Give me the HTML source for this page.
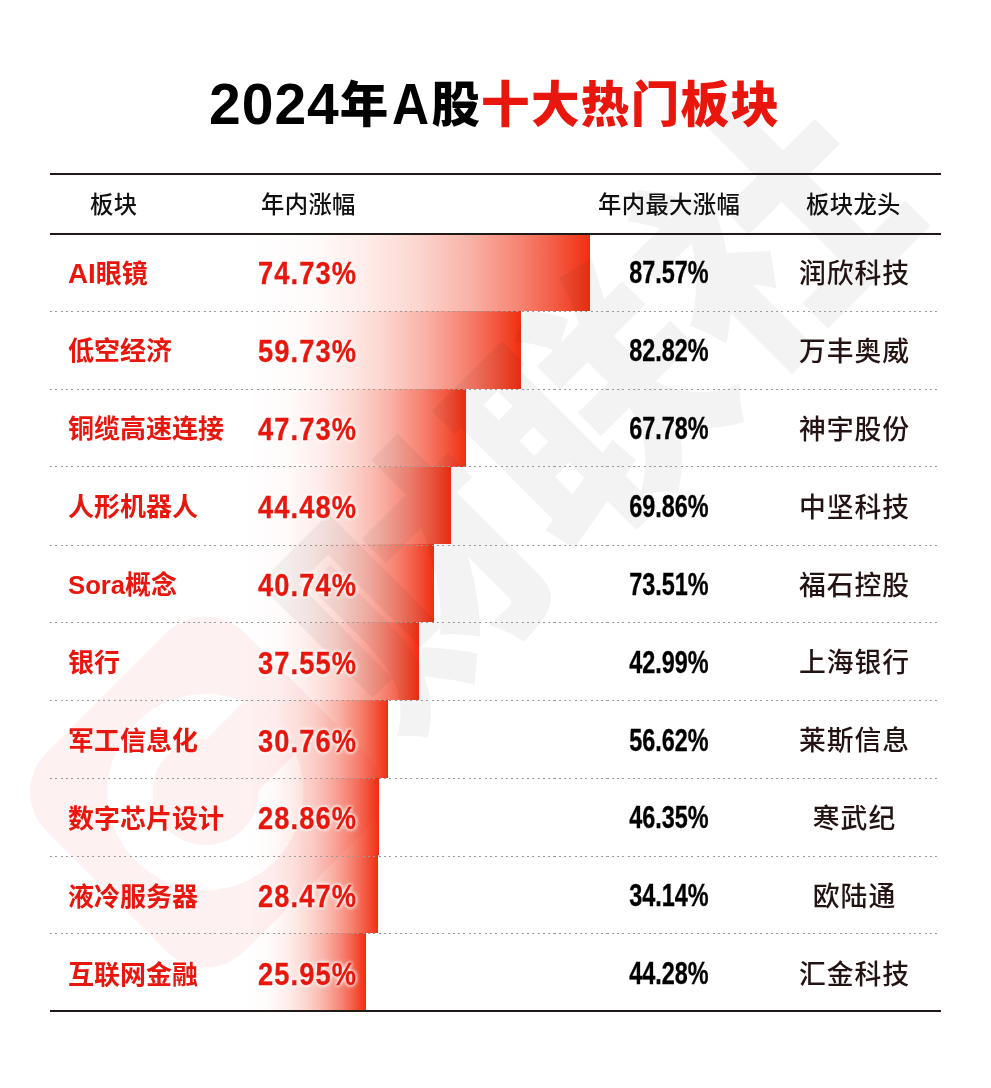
<!DOCTYPE html>
<html lang="zh-CN">
<head>
<meta charset="utf-8">
<title>2024年A股十大热门板块</title>
<style>
*{margin:0;padding:0;box-sizing:border-box}
html,body{width:991px;height:1088px;background:#fff;overflow:hidden}
body{position:relative;font-family:"Liberation Sans","Noto Sans CJK SC",sans-serif;color:#000}
#wm{position:absolute;left:0;top:0;width:991px;height:1088px;z-index:3;mix-blend-mode:multiply;pointer-events:none}
h1{position:absolute;left:209px;top:65px;width:700px;text-align:left;font-size:48.5px;line-height:74px;font-weight:900;letter-spacing:1px;white-space:nowrap;z-index:4}
h1 b{color:#e8160c;font-weight:900;letter-spacing:1.4px}
h1 span{font-size:57px;font-weight:700;position:relative;top:1.5px}
h1 span.a{display:inline-block;transform:scaleX(.9);margin:0 -1px 0 1px;line-height:60px}
.ln{position:absolute;left:50px;width:891px;height:2px;background:#1f1a17;z-index:4}
.hd{position:absolute;top:186.5px;font-size:23.3px;line-height:36px;color:#111;white-space:nowrap;z-index:4;letter-spacing:.4px;font-weight:500}
.row{position:absolute;left:50px;width:890px}
.dot{position:absolute;left:50px;width:890px;height:1px;z-index:4;
 background:repeating-linear-gradient(90deg,#9a9a9a 0,#9a9a9a 2px,rgba(255,255,255,0) 2px,rgba(255,255,255,0) 5.3px)}
.bar{position:absolute;left:197px;top:0;z-index:1;
 background:linear-gradient(90deg,rgba(240,46,16,0) 0%,rgba(240,46,16,.025) 20%,rgba(240,46,16,.09) 35%,rgba(240,46,16,.2) 50%,rgba(240,46,16,.37) 65%,rgba(240,46,16,.6) 80%,rgba(240,46,16,.79) 90%,rgba(240,46,16,1) 100%)}
.nm,.pc,.mx,.ld{position:absolute;top:0;white-space:nowrap;z-index:5}
.nm{left:18px;font-size:26px;font-weight:700;color:#e8160c;letter-spacing:0;margin-top:3.6px}
.pc{left:208px;font-size:31px;font-weight:700;color:#e8160c;letter-spacing:1.25px;transform:scaleX(.88);transform-origin:0 50%;margin-top:3.2px;-webkit-text-stroke:.3px #e8160c;text-shadow:0 0 4px #fff,0 0 4px #fff,0 0 6px #fff}
.mx{left:519px;width:200px;text-align:center;font-size:31px;font-weight:700;color:#000;transform:scaleX(.755);-webkit-text-stroke:.35px #000;margin-top:2.2px}
.nm em{font-style:normal;font-size:27.8px;line-height:20px}
.ld{left:704px;width:200px;text-align:center;font-size:26.8px;font-weight:500;color:#241313;letter-spacing:1px;margin-top:4px;text-indent:1px}
</style>
</head>
<body>
<svg id="wm" viewBox="0 0 991 1088">
<g transform="rotate(-45)">
<rect x="-554.9" y="565.1" width="280.4" height="280.4" rx="55" ry="55" fill="#fef1f1"/>
<circle cx="-414.7" cy="705.3" r="75.5" fill="none" stroke="#ffffff" stroke-width="45"/>
<rect x="-400" y="668.8" width="92" height="73" fill="#fef1f1"/>
<text x="-245" y="801" font-family="'Noto Sans CJK SC',sans-serif" font-weight="900" font-size="250" fill="#f3f3f3">财联社</text>
</g>
</svg>
<h1><span>2024</span>年<span class="a">A</span>股<b>十大热门板块</b></h1>
<div class="ln" style="top:172.8px"></div>
<div class="hd" style="left:90px">板块</div>
<div class="hd" style="left:261px">年内涨幅</div>
<div class="hd" style="left:598px">年内最大涨幅</div>
<div class="hd" style="left:806px">板块龙头</div>
<div class="ln" style="top:232.5px"></div>
<div id="rows">
<div class="row" style="top:233.5px;height:77.73px"><i class="bar" style="width:343px;height:77.73px"></i><span class="nm" style="top:-1.5px;height:77.73px;line-height:77.73px"><em>AI</em>眼镜</span><span class="pc" style="top:-1.5px;height:77.73px;line-height:77.73px">74.73%</span><span class="mx" style="top:-1.5px;height:77.73px;line-height:77.73px">87.57%</span><span class="ld" style="top:-1.5px;height:77.73px;line-height:77.73px">润欣科技</span></div>
<div class="row" style="top:311.23px;height:77.73px"><i class="bar" style="width:274.1px;height:77.73px"></i><span class="nm" style="top:-1.33px;height:77.73px;line-height:77.73px">低空经济</span><span class="pc" style="top:-1.33px;height:77.73px;line-height:77.73px">59.73%</span><span class="mx" style="top:-1.33px;height:77.73px;line-height:77.73px">82.82%</span><span class="ld" style="top:-1.33px;height:77.73px;line-height:77.73px">万丰奥威</span></div>
<div class="row" style="top:388.96px;height:77.73px"><i class="bar" style="width:219px;height:77.73px"></i><span class="nm" style="top:-1.17px;height:77.73px;line-height:77.73px">铜缆高速连接</span><span class="pc" style="top:-1.17px;height:77.73px;line-height:77.73px">47.73%</span><span class="mx" style="top:-1.17px;height:77.73px;line-height:77.73px">67.78%</span><span class="ld" style="top:-1.17px;height:77.73px;line-height:77.73px">神宇股份</span></div>
<div class="row" style="top:466.69px;height:77.73px"><i class="bar" style="width:204.1px;height:77.73px"></i><span class="nm" style="top:-1.0px;height:77.73px;line-height:77.73px">人形机器人</span><span class="pc" style="top:-1.0px;height:77.73px;line-height:77.73px">44.48%</span><span class="mx" style="top:-1.0px;height:77.73px;line-height:77.73px">69.86%</span><span class="ld" style="top:-1.0px;height:77.73px;line-height:77.73px">中坚科技</span></div>
<div class="row" style="top:544.42px;height:77.73px"><i class="bar" style="width:186.9px;height:77.73px"></i><span class="nm" style="top:-0.83px;height:77.73px;line-height:77.73px"><em style="font-size:25.7px">Sora</em>概念</span><span class="pc" style="top:-0.83px;height:77.73px;line-height:77.73px">40.74%</span><span class="mx" style="top:-0.83px;height:77.73px;line-height:77.73px">73.51%</span><span class="ld" style="top:-0.83px;height:77.73px;line-height:77.73px">福石控股</span></div>
<div class="row" style="top:622.15px;height:77.73px"><i class="bar" style="width:172.2px;height:77.73px"></i><span class="nm" style="top:-0.67px;height:77.73px;line-height:77.73px">银行</span><span class="pc" style="top:-0.67px;height:77.73px;line-height:77.73px">37.55%</span><span class="mx" style="top:-0.67px;height:77.73px;line-height:77.73px">42.99%</span><span class="ld" style="top:-0.67px;height:77.73px;line-height:77.73px">上海银行</span></div>
<div class="row" style="top:699.88px;height:77.73px"><i class="bar" style="width:141.1px;height:77.73px"></i><span class="nm" style="top:-0.5px;height:77.73px;line-height:77.73px">军工信息化</span><span class="pc" style="top:-0.5px;height:77.73px;line-height:77.73px">30.76%</span><span class="mx" style="top:-0.5px;height:77.73px;line-height:77.73px">56.62%</span><span class="ld" style="top:-0.5px;height:77.73px;line-height:77.73px">莱斯信息</span></div>
<div class="row" style="top:777.61px;height:77.73px"><i class="bar" style="width:132.3px;height:77.73px"></i><span class="nm" style="top:-0.33px;height:77.73px;line-height:77.73px">数字芯片设计</span><span class="pc" style="top:-0.33px;height:77.73px;line-height:77.73px">28.86%</span><span class="mx" style="top:-0.33px;height:77.73px;line-height:77.73px">46.35%</span><span class="ld" style="top:-0.33px;height:77.73px;line-height:77.73px">寒武纪</span></div>
<div class="row" style="top:855.34px;height:77.73px"><i class="bar" style="width:130.5px;height:77.73px"></i><span class="nm" style="top:-0.17px;height:77.73px;line-height:77.73px">液冷服务器</span><span class="pc" style="top:-0.17px;height:77.73px;line-height:77.73px">28.47%</span><span class="mx" style="top:-0.17px;height:77.73px;line-height:77.73px">34.14%</span><span class="ld" style="top:-0.17px;height:77.73px;line-height:77.73px">欧陆通</span></div>
<div class="row" style="top:933.07px;height:77.73px"><i class="bar" style="width:119px;height:77.73px"></i><span class="nm" style="top:-0.0px;height:77.73px;line-height:77.73px">互联网金融</span><span class="pc" style="top:-0.0px;height:77.73px;line-height:77.73px">25.95%</span><span class="mx" style="top:-0.0px;height:77.73px;line-height:77.73px">44.28%</span><span class="ld" style="top:-0.0px;height:77.73px;line-height:77.73px">汇金科技</span></div>
<i class="dot" style="top:311px"></i>
<i class="dot" style="top:389px"></i>
<i class="dot" style="top:466px"></i>
<i class="dot" style="top:545px"></i>
<i class="dot" style="top:622px"></i>
<i class="dot" style="top:700px"></i>
<i class="dot" style="top:778px"></i>
<i class="dot" style="top:855.6px"></i>
<i class="dot" style="top:933px"></i>
</div><!--/rows-->
<div class="ln" style="top:1010px;height:1.6px"></div>
</body>
</html>
